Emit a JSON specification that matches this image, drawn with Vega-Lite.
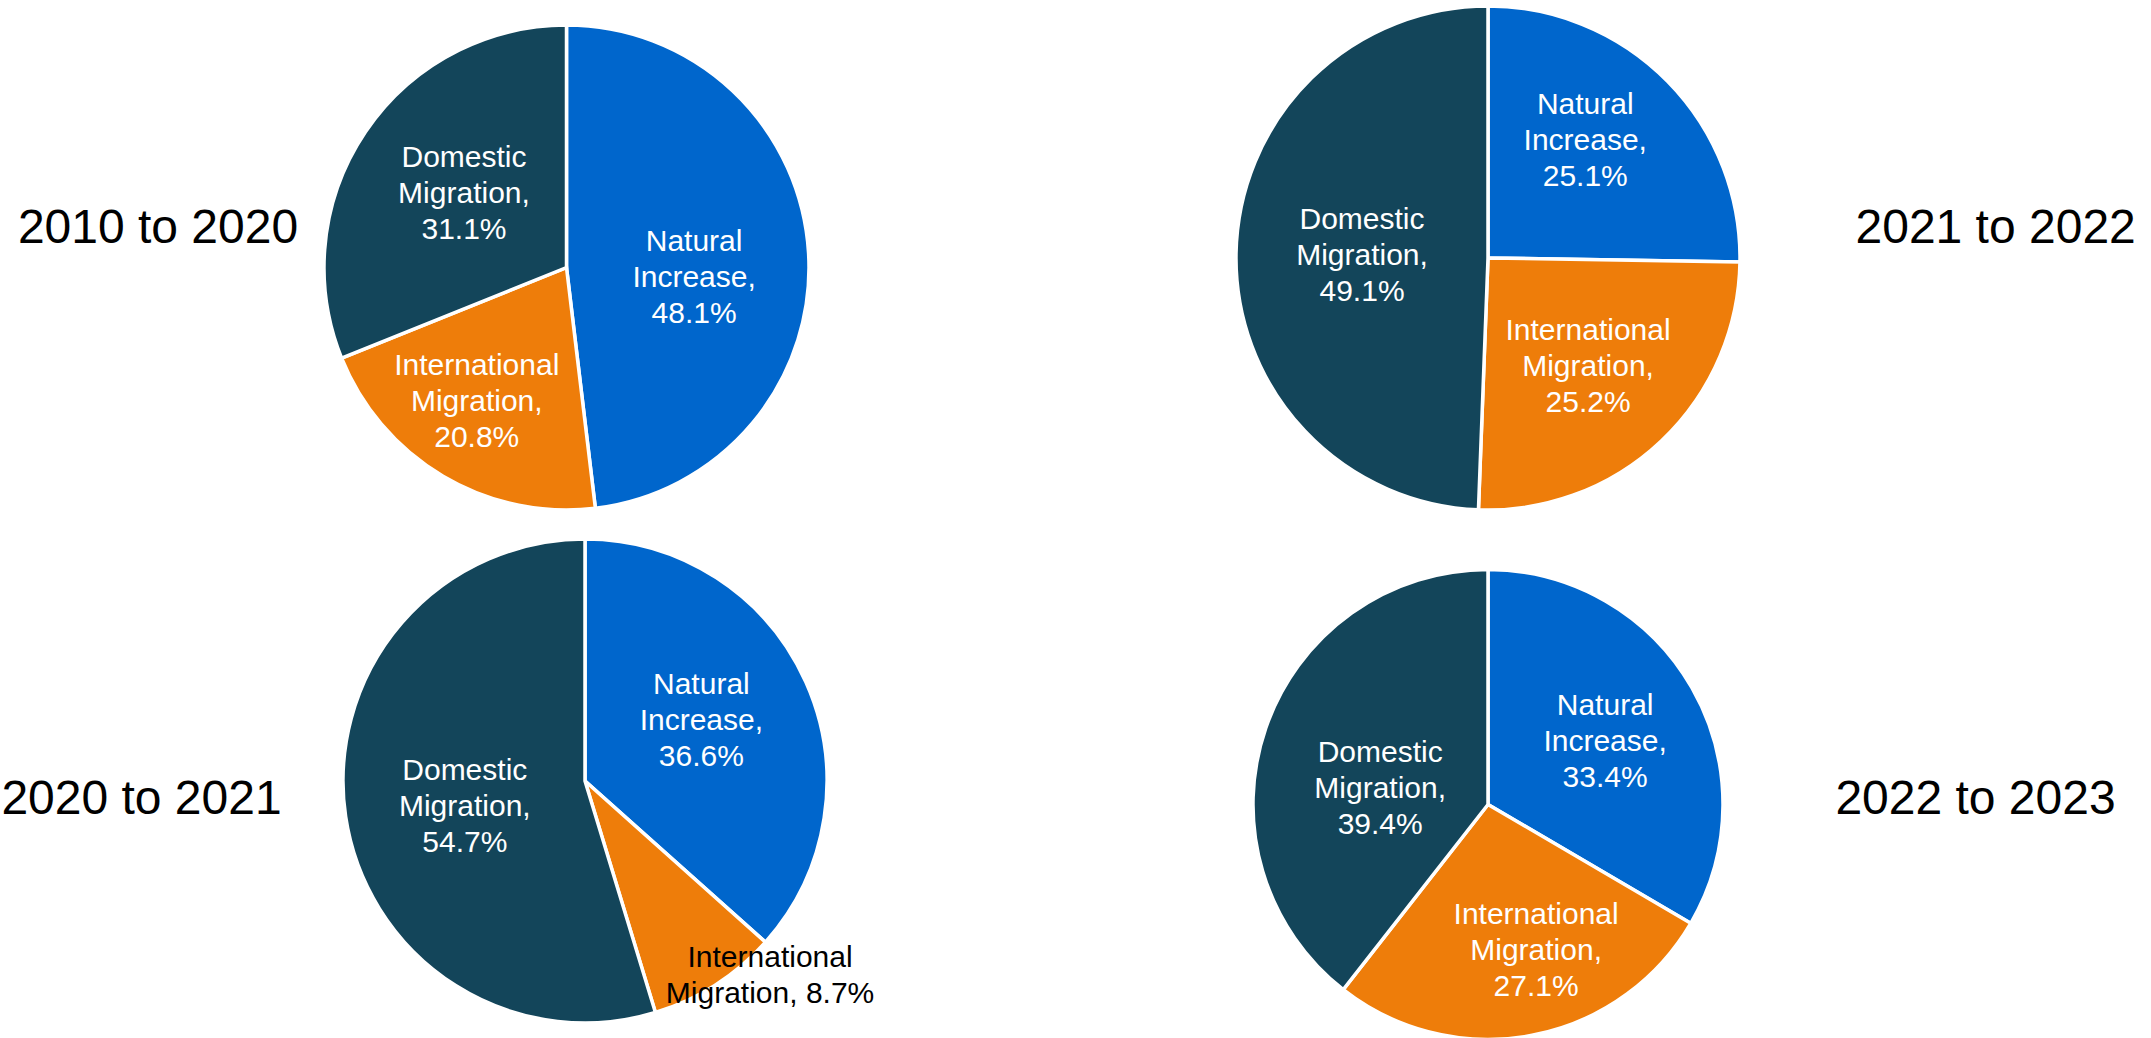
{
  "$schema": "https://vega.github.io/schema/vega-lite/v6.json",
  "background": "white",
  "padding": 0,
  "config": {"view": {"stroke": null}, "font": "Liberation Sans"},
  "datasets": {
    "pies": [
      {"period": "2010 to 2020", "component": "Natural Increase", "value": 48.1, "label": "Natural\nIncrease,\n48.1%"},
      {"period": "2010 to 2020", "component": "International Migration", "value": 20.8, "label": "International\nMigration,\n20.8%"},
      {"period": "2010 to 2020", "component": "Domestic Migration", "value": 31.1, "label": "Domestic\nMigration,\n31.1%"},
      {"period": "2021 to 2022", "component": "Natural Increase", "value": 25.1, "label": "Natural\nIncrease,\n25.1%"},
      {"period": "2021 to 2022", "component": "International Migration", "value": 25.2, "label": "International\nMigration,\n25.2%"},
      {"period": "2021 to 2022", "component": "Domestic Migration", "value": 49.1, "label": "Domestic\nMigration,\n49.1%"},
      {"period": "2020 to 2021", "component": "Natural Increase", "value": 36.6, "label": "Natural\nIncrease,\n36.6%"},
      {"period": "2020 to 2021", "component": "International Migration", "value": 8.7, "label": "International\nMigration, 8.7%"},
      {"period": "2020 to 2021", "component": "Domestic Migration", "value": 54.7, "label": "Domestic\nMigration,\n54.7%"},
      {"period": "2022 to 2023", "component": "Natural Increase", "value": 33.4, "label": "Natural\nIncrease,\n33.4%"},
      {"period": "2022 to 2023", "component": "International Migration", "value": 27.1, "label": "International\nMigration,\n27.1%"},
      {"period": "2022 to 2023", "component": "Domestic Migration", "value": 39.4, "label": "Domestic\nMigration,\n39.4%"}
    ],
    "periods": [
      {"period": "2010 to 2020"},
      {"period": "2021 to 2022"},
      {"period": "2020 to 2021"},
      {"period": "2022 to 2023"}
    ]
  },
  "spacing": 361,
  "hconcat": [
    {
      "spacing": 8,
      "hconcat": [
        {
          "spacing": 292,
          "vconcat": [
            {
              "width": 316, "height": 458,
              "data": {"name": "periods"},
              "transform": [{"filter": "datum.period === '2010 to 2020'"}],
              "mark": {"type": "text", "fontSize": 48, "color": "black", "font": "Liberation Sans"},
              "encoding": {"text": {"field": "period", "type": "nominal"}}
            },
            {
              "width": 283, "height": 100,
              "data": {"name": "periods"},
              "transform": [{"filter": "datum.period === '2020 to 2021'"}],
              "mark": {"type": "text", "fontSize": 48, "color": "black", "font": "Liberation Sans"},
              "encoding": {"text": {"field": "period", "type": "nominal"}}
            }
          ]
        },
        {
          "spacing": 4,
          "vconcat": [
            {
              "width": 485, "height": 535,
              "data": {"name": "pies"},
              "transform": [{"filter": "datum.period === '2010 to 2020'"}],
              "encoding": {
                "theta": {"field": "value", "type": "quantitative", "stack": "normalize"},
                "order": {"field": "component", "type": "ordinal", "sort": "descending"}
              },
              "layer": [
                {
                  "mark": {"type": "arc", "outerRadius": 242.5, "stroke": "white", "strokeWidth": 3.5, "clip": true},
                  "encoding": {"color": {"field": "component", "type": "nominal", "scale": {"domain": ["Natural Increase", "International Migration", "Domestic Migration"], "range": ["#0066CC", "#EE7D0A", "#13455A"]}, "legend": null}}
                },
                {
                  "mark": {"type": "text", "radius": 128, "thetaOffset": 0.138, "dy": -36, "fontSize": 30, "lineHeight": 36, "lineBreak": "\n", "color": "white", "font": "Liberation Sans"},
                  "encoding": {"detail": {"field": "component"}, "text": {"condition": {"test": "datum.component === 'Natural Increase'", "field": "label", "type": "nominal"}, "value": ""}}
                },
                {
                  "mark": {"type": "text", "radius": 162, "thetaOffset": 0.053, "dy": -36, "fontSize": 30, "lineHeight": 36, "lineBreak": "\n", "color": "white", "font": "Liberation Sans"},
                  "encoding": {"detail": {"field": "component"}, "text": {"condition": {"test": "datum.component === 'International Migration'", "field": "label", "type": "nominal"}, "value": ""}}
                },
                {
                  "mark": {"type": "text", "radius": 126.4, "thetaOffset": 0.031, "dy": -36, "fontSize": 30, "lineHeight": 36, "lineBreak": "\n", "color": "white", "font": "Liberation Sans"},
                  "encoding": {"detail": {"field": "component"}, "text": {"condition": {"test": "datum.component === 'Domestic Migration'", "field": "label", "type": "nominal"}, "value": ""}}
                }
              ]
            },
            {
              "width": 522, "height": 484,
              "data": {"name": "pies"},
              "transform": [{"filter": "datum.period === '2020 to 2021'"}],
              "encoding": {
                "theta": {"field": "value", "type": "quantitative", "stack": "normalize"},
                "order": {"field": "component", "type": "ordinal", "sort": "descending"}
              },
              "layer": [
                {
                  "mark": {"type": "arc", "outerRadius": 242, "stroke": "white", "strokeWidth": 3.5, "clip": true},
                  "encoding": {"color": {"field": "component", "type": "nominal", "scale": {"domain": ["Natural Increase", "International Migration", "Domestic Migration"], "range": ["#0066CC", "#EE7D0A", "#13455A"]}, "legend": null}}
                },
                {
                  "mark": {"type": "text", "radius": 131, "thetaOffset": -0.056, "dy": -36, "fontSize": 30, "lineHeight": 36, "lineBreak": "\n", "color": "white", "font": "Liberation Sans"},
                  "encoding": {"detail": {"field": "component"}, "text": {"condition": {"test": "datum.component === 'Natural Increase'", "field": "label", "type": "nominal"}, "value": ""}}
                },
                {
                  "mark": {"type": "text", "radius": 269, "thetaOffset": -0.19, "dy": -18, "fontSize": 30, "lineHeight": 36, "lineBreak": "\n", "color": "black", "font": "Liberation Sans"},
                  "encoding": {"detail": {"field": "component"}, "text": {"condition": {"test": "datum.component === 'International Migration'", "field": "label", "type": "nominal"}, "value": ""}}
                },
                {
                  "mark": {"type": "text", "radius": 123, "thetaOffset": -0.066, "dy": -36, "fontSize": 30, "lineHeight": 36, "lineBreak": "\n", "color": "white", "font": "Liberation Sans"},
                  "encoding": {"detail": {"field": "component"}, "text": {"condition": {"test": "datum.component === 'Domestic Migration'", "field": "label", "type": "nominal"}, "value": ""}}
                }
              ]
            }
          ]
        }
      ]
    },
    {
      "spacing": 95,
      "hconcat": [
        {
          "spacing": 55,
          "vconcat": [
            {
              "width": 504, "height": 516,
              "data": {"name": "pies"},
              "transform": [{"filter": "datum.period === '2021 to 2022'"}],
              "encoding": {
                "theta": {"field": "value", "type": "quantitative", "stack": "normalize"},
                "order": {"field": "component", "type": "ordinal", "sort": "descending"}
              },
              "layer": [
                {
                  "mark": {"type": "arc", "outerRadius": 252, "stroke": "white", "strokeWidth": 3.5, "clip": true},
                  "encoding": {"color": {"field": "component", "type": "nominal", "scale": {"domain": ["Natural Increase", "International Migration", "Domestic Migration"], "range": ["#0066CC", "#EE7D0A", "#13455A"]}, "legend": null}}
                },
                {
                  "mark": {"type": "text", "radius": 152, "thetaOffset": -0.099, "dy": -36, "fontSize": 30, "lineHeight": 36, "lineBreak": "\n", "color": "white", "font": "Liberation Sans"},
                  "encoding": {"detail": {"field": "component"}, "text": {"condition": {"test": "datum.component === 'Natural Increase'", "field": "label", "type": "nominal"}, "value": ""}}
                },
                {
                  "mark": {"type": "text", "radius": 148, "thetaOffset": 0.016, "dy": -36, "fontSize": 30, "lineHeight": 36, "lineBreak": "\n", "color": "white", "font": "Liberation Sans"},
                  "encoding": {"detail": {"field": "component"}, "text": {"condition": {"test": "datum.component === 'International Migration'", "field": "label", "type": "nominal"}, "value": ""}}
                },
                {
                  "mark": {"type": "text", "radius": 126, "thetaOffset": 0, "dy": -36, "fontSize": 30, "lineHeight": 36, "lineBreak": "\n", "color": "white", "font": "Liberation Sans"},
                  "encoding": {"detail": {"field": "component"}, "text": {"condition": {"test": "datum.component === 'Domestic Migration'", "field": "label", "type": "nominal"}, "value": ""}}
                }
              ]
            },
            {
              "width": 504, "height": 467,
              "data": {"name": "pies"},
              "transform": [{"filter": "datum.period === '2022 to 2023'"}],
              "encoding": {
                "theta": {"field": "value", "type": "quantitative", "stack": "normalize"},
                "order": {"field": "component", "type": "ordinal", "sort": "descending"}
              },
              "layer": [
                {
                  "mark": {"type": "arc", "outerRadius": 235, "stroke": "white", "strokeWidth": 3.5, "clip": true},
                  "encoding": {"color": {"field": "component", "type": "nominal", "scale": {"domain": ["Natural Increase", "International Migration", "Domestic Migration"], "range": ["#0066CC", "#EE7D0A", "#13455A"]}, "legend": null}}
                },
                {
                  "mark": {"type": "text", "radius": 133, "thetaOffset": 0.027, "dy": -36, "fontSize": 30, "lineHeight": 36, "lineBreak": "\n", "color": "white", "font": "Liberation Sans"},
                  "encoding": {"detail": {"field": "component"}, "text": {"condition": {"test": "datum.component === 'Natural Increase'", "field": "label", "type": "nominal"}, "value": ""}}
                },
                {
                  "mark": {"type": "text", "radius": 154, "thetaOffset": -0.129, "dy": -36, "fontSize": 30, "lineHeight": 36, "lineBreak": "\n", "color": "white", "font": "Liberation Sans"},
                  "encoding": {"detail": {"field": "component"}, "text": {"condition": {"test": "datum.component === 'International Migration'", "field": "label", "type": "nominal"}, "value": ""}}
                },
                {
                  "mark": {"type": "text", "radius": 109, "thetaOffset": -0.185, "dy": -36, "fontSize": 30, "lineHeight": 36, "lineBreak": "\n", "color": "white", "font": "Liberation Sans"},
                  "encoding": {"detail": {"field": "component"}, "text": {"condition": {"test": "datum.component === 'Domestic Migration'", "field": "label", "type": "nominal"}, "value": ""}}
                }
              ]
            }
          ]
        },
        {
          "spacing": 292,
          "vconcat": [
            {
              "width": 41, "height": 458,
              "data": {"name": "periods"},
              "transform": [{"filter": "datum.period === '2021 to 2022'"}],
              "mark": {"type": "text", "fontSize": 48, "color": "black", "align": "left", "font": "Liberation Sans"},
              "encoding": {"text": {"field": "period", "type": "nominal"}}
            },
            {
              "width": 281, "height": 100,
              "data": {"name": "periods"},
              "transform": [{"filter": "datum.period === '2022 to 2023'"}],
              "mark": {"type": "text", "fontSize": 48, "color": "black", "font": "Liberation Sans"},
              "encoding": {"text": {"field": "period", "type": "nominal"}}
            }
          ]
        }
      ]
    }
  ]
}
